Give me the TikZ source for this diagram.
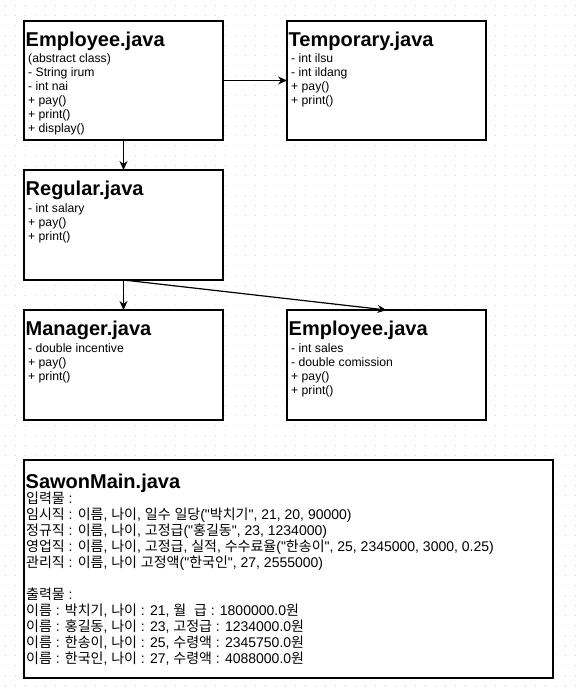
\documentclass[tikz,border=0pt]{standalone}
\usepackage{fontspec}
\setmainfont{Liberation Sans}[Ligatures=TeXOff]
\newfontfamily\krfont{Noto Sans CJK KR}[Ligatures=TeXOff]
\newcommand{\kr}[1]{{\krfont #1}}
\usetikzlibrary{arrows.meta,calc}
\tikzset{
  classbox/.style={draw, line width=1.2pt, fill=white, anchor=north west,
                   minimum width=199pt, minimum height=#1, inner sep=0pt, outer sep=0pt},
  classtitle/.style={anchor=base west, inner sep=0pt, font=\fontsize{20}{22}\selectfont\bfseries},
  % multi-line texts sit on the baseline of their last line
  classmembers/.style={anchor=base west, inner sep=0pt, align=left, font=\fontsize{12.2}{14}\selectfont},
  maintext/.style={anchor=base west, inner sep=0pt, align=left, font=\fontsize{14}{16}\selectfont},
  inherit/.style={line width=1.2pt, -{Stealth[length=9pt,width=8pt,inset=3pt]}},
  griddot/.style={draw=gray!30, line width=1pt, dash pattern=on 1pt off 9pt},
}

\begin{document}
\begin{tikzpicture}[x=1pt, y=-1pt]
\useasboundingbox (0,0) rectangle (581,691);
% Background grid
\foreach \gy in {5,15,...,685}
  \draw[griddot] (4.5,\gy) -- (581,\gy);

% Top row
\node[classbox=119pt] (employee) at (24,21) {};
\node[classtitle] (employeeT) at ($(employee.north west)+(1.5,25)$) {Employee.java};
\node[classmembers] (employeeM) at ($(employee.north west)+(4,111.5)$) {%
(abstract class)\\
- String irum\\
- int nai\\
+ pay()\\
+ print()\\
+ display()};

\node[classbox=119pt] (temporary) at (287,21) {};
\node[classtitle] (temporaryT) at ($(temporary.north west)+(1.5,25)$) {Temporary.java};
\node[classmembers] (temporaryM) at ($(temporary.north west)+(4,83.5)$) {%
- int ilsu\\
- int ildang\\
+ pay()\\
+ print()};

% Middle
\node[classbox=110pt] (regular) at (24,170) {};
\node[classtitle] (regularT) at ($(regular.north west)+(1.5,25)$) {Regular.java};
\node[classmembers] (regularM) at ($(regular.north west)+(4,70)$) {%
- int salary\\
+ pay()\\
+ print()};

% Bottom row
\node[classbox=110pt] (manager) at (24,310) {};
\node[classtitle] (managerT) at ($(manager.north west)+(1.5,25)$) {Manager.java};
\node[classmembers] (managerM) at ($(manager.north west)+(4,70)$) {%
- double incentive\\
+ pay()\\
+ print()};

\node[classbox=110pt] (sales) at (287,310) {};
\node[classtitle] (salesT) at ($(sales.north west)+(1.5,25)$) {Employee.java};
\node[classmembers] (salesM) at ($(sales.north west)+(4,84)$) {%
- int sales\\
- double comission\\
+ pay()\\
+ print()};

% Arrows
\draw[inherit] (employee.south) -- (regular.north);
\draw[inherit] (employee.east) -- (temporary.west);
\draw[inherit] (regular.south) -- (manager.north);
\draw[inherit] (regular.south) -- (sales.north);

% Main class
\node[classbox=218pt, minimum width=529pt] (sawon) at (24,460) {};
\node[classtitle] (sawonT) at ($(sawon.north west)+(1.5,28)$) {SawonMain.java};
\node[maintext] (sawonM) at ($(sawon.north west)+(2,203.5)$) {%
\kr{입력물} :\\
\kr{임시직} : \kr{이름}, \kr{나이}, \kr{일수} \kr{일당}("\kr{박치기}", 21, 20, 90000)\\
\kr{정규직} : \kr{이름}, \kr{나이}, \kr{고정급}("\kr{홍길동}", 23, 1234000)\\
\kr{영업직} : \kr{이름}, \kr{나이}, \kr{고정급}, \kr{실적}, \kr{수수료율}("\kr{한송이}", 25, 2345000, 3000, 0.25)\\
\kr{관리직} : \kr{이름}, \kr{나이} \kr{고정액}("\kr{한국인}", 27, 2555000)\\[16pt]
\kr{출력물} :\\
\kr{이름} : \kr{박치기}, \kr{나이} : 21, \kr{월}~~\kr{급} : 1800000.0\kr{원}\\
\kr{이름} : \kr{홍길동}, \kr{나이} : 23, \kr{고정급} : 1234000.0\kr{원}\\
\kr{이름} : \kr{한송이}, \kr{나이} : 25, \kr{수령액} : 2345750.0\kr{원}\\
\kr{이름} : \kr{한국인}, \kr{나이} : 27, \kr{수령액} : 4088000.0\kr{원}};
\end{tikzpicture}
\end{document}
